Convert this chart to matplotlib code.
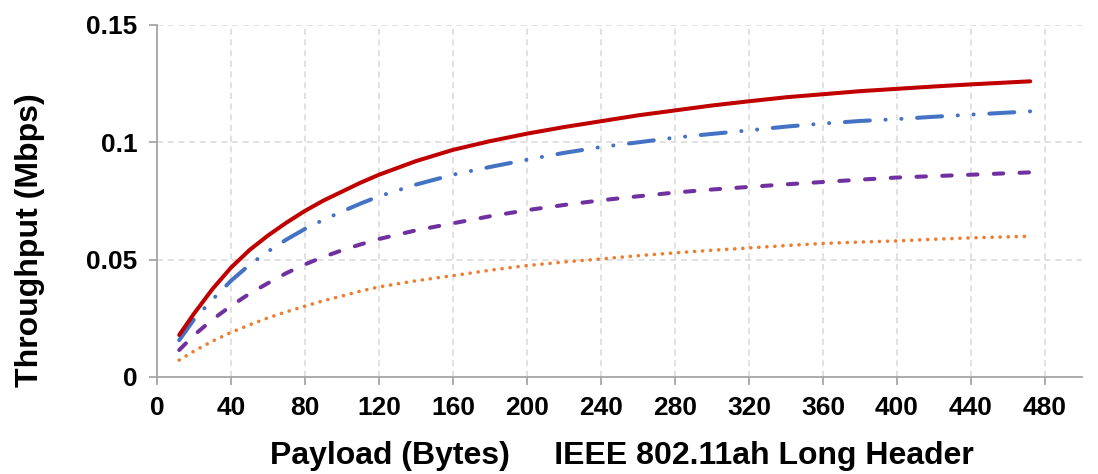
import matplotlib
matplotlib.use("Agg")
import matplotlib.pyplot as plt

# payload sizes (bytes) and throughput (Mbps) for the four curves
payload = [12, 20, 30, 40, 50, 60, 70, 80, 90, 100, 110, 120, 140, 160, 180,
           200, 220, 240, 260, 280, 300, 320, 340, 360, 380, 400, 420, 440, 472]
thr_red = [0.0179, 0.0270, 0.0375, 0.0466, 0.0541, 0.0603, 0.0658, 0.0708,
           0.0752, 0.0790, 0.0828, 0.0862, 0.0920, 0.0968, 0.1005, 0.1037,
           0.1065, 0.1090, 0.1115, 0.1136, 0.1157, 0.1175, 0.1192, 0.1205,
           0.1218, 0.1228, 0.1238, 0.1247, 0.1260]
thr_blue = [0.0157, 0.0245, 0.0330, 0.0410, 0.0478, 0.0535, 0.0586, 0.0631,
            0.0670, 0.0705, 0.0739, 0.0770, 0.0820, 0.0862, 0.0895, 0.0926,
            0.0955, 0.0980, 0.1000, 0.1020, 0.1036, 0.1051, 0.1067, 0.1080,
            0.1091, 0.1099, 0.1109, 0.1118, 0.1132]
thr_purple = [0.0115, 0.0178, 0.0245, 0.0303, 0.0355, 0.0400, 0.0443, 0.0480,
              0.0512, 0.0540, 0.0565, 0.0588, 0.0625, 0.0655, 0.0685, 0.0711,
              0.0733, 0.0753, 0.0770, 0.0786, 0.0799, 0.0810, 0.0821, 0.0831,
              0.0841, 0.0850, 0.0856, 0.0862, 0.0872]
thr_orange = [0.0072, 0.0110, 0.0153, 0.0190, 0.0222, 0.0252, 0.0278, 0.0302,
              0.0325, 0.0345, 0.0366, 0.0384, 0.0410, 0.0432, 0.0455, 0.0475,
              0.0490, 0.0503, 0.0517, 0.0529, 0.0540, 0.0550, 0.0560, 0.0569,
              0.0575, 0.0580, 0.0587, 0.0593, 0.0600]

x_ticks = list(range(0, 481, 40))
y_ticks = [0, 0.05, 0.1, 0.15]
y_labels = ["0", "0.05", "0.1", "0.15"]

plt.rcParams['font.family'] = ['Liberation Sans', 'DejaVu Sans']
plt.rcParams['font.weight'] = 'bold'

fig = plt.figure(figsize=(10.98, 4.74), dpi=100)
ax = fig.add_axes([157 / 1098, 97 / 474, 925 / 1098, 352 / 474])

lw = 2.9
ax.plot(payload, thr_red, color='#C00000', lw=lw, solid_capstyle='round',
        solid_joinstyle='round', zorder=5)
ax.plot(payload, thr_blue, color='#4472C4', lw=lw, dash_capstyle='round',
        dashes=(6.2, 3.9, 0.03, 3.9, 0.03, 3.9), zorder=4)
ax.plot(payload, thr_purple, color='#7030A0', lw=lw, dash_capstyle='round',
        dashes=(2.35, 4.05), zorder=3)
ax.plot(payload, thr_orange, color='#ED7D31', lw=2.6, dash_capstyle='round',
        dashes=(0.03, 2.2), zorder=2)

ax.set_xlim(0, 500)
ax.set_ylim(0, 0.15)
ax.set_xticks(x_ticks)
ax.set_xticklabels([str(t) for t in x_ticks], fontsize=19, fontweight='bold')
ax.set_yticks(y_ticks)
ax.set_yticklabels(y_labels, fontsize=19, fontweight='bold')

ax.grid(True, color='#d9d9d9', linestyle=(0, (4, 3)), linewidth=1.1)
ax.set_axisbelow(True)
for side in ['top', 'right']:
    ax.spines[side].set_visible(False)
for side in ['left', 'bottom']:
    ax.spines[side].set_color('#a6a6a6')
    ax.spines[side].set_linewidth(1.3)
ax.tick_params(axis='both', colors='#a6a6a6', width=1.3, length=6)
ax.tick_params(axis='x', labelcolor='black', pad=8)
ax.tick_params(axis='y', labelcolor='black', pad=8)

fig.text(622 / 1098, 1 - 456 / 474, "Payload (Bytes)     IEEE 802.11ah Long Header",
         ha='center', va='center', fontsize=23, fontweight='bold')
fig.text(30 / 1098, 1 - 240 / 474, "Throughput (Mbps)", rotation=90,
         ha='center', va='center', fontsize=23, fontweight='bold')

fig.savefig("out.png", dpi=100)
